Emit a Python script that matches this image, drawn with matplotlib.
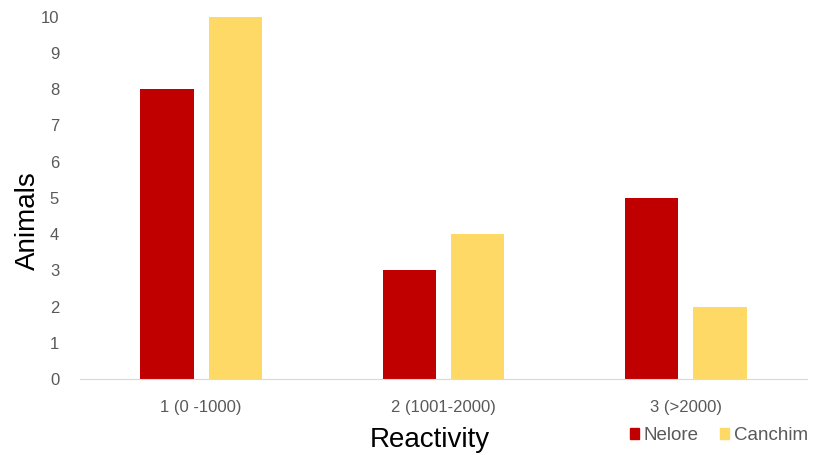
import numpy as np
import matplotlib.pyplot as plt
from matplotlib.patches import Patch

plt.rcParams['font.family'] = ['Liberation Sans', 'DejaVu Sans']

categories = ['1 (0 -1000)', '2 (1001-2000)', '3 (>2000)']
nelore = [8, 3, 5]
canchim = [10, 4, 2]
yticks = list(range(0, 11))

x = np.arange(len(categories))
w = 0.22
off = 0.141

fig = plt.figure(figsize=(8.16, 4.55), dpi=100)
ax = fig.add_axes([0.098, 0.167, 0.891, 0.796])

ax.bar(x - off, nelore, w, color='#C00000', label='Nelore')
ax.bar(x + off, canchim, w, color='#FFD966', label='Canchim')

ax.set_xlim(-0.5, 2.5)
ax.set_ylim(0, 10)
ax.set_yticks(yticks)
ax.set_xticks(x)
ax.set_xticklabels(categories)
ax.tick_params(axis='both', length=0, colors='#595959', labelsize=12)
ax.tick_params(axis='y', pad=15)
ax.tick_params(axis='x', pad=15)

for s in ['top', 'right', 'left']:
    ax.spines[s].set_visible(False)
ax.spines['bottom'].set_color('#D9D9D9')

# axis titles placed in figure coords
fig.text(0.034, 0.515, 'Animals', rotation=90, fontsize=20,
         ha='center', va='center')
fig.text(0.527, 0.033, 'Reactivity', fontsize=20, ha='center', va='center')

handles = [Patch(color='#C00000'), Patch(color='#FFD966')]
fig.legend(handles, ['Nelore', 'Canchim'], loc='center right',
           bbox_to_anchor=(1.006, 0.042), ncol=2, frameon=False, fontsize=13.5,
           handlelength=0.5, handleheight=0.5, handletextpad=0.25,
           columnspacing=1.1, labelcolor='#595959', borderpad=0.2)

fig.savefig('out.png', dpi=100)
